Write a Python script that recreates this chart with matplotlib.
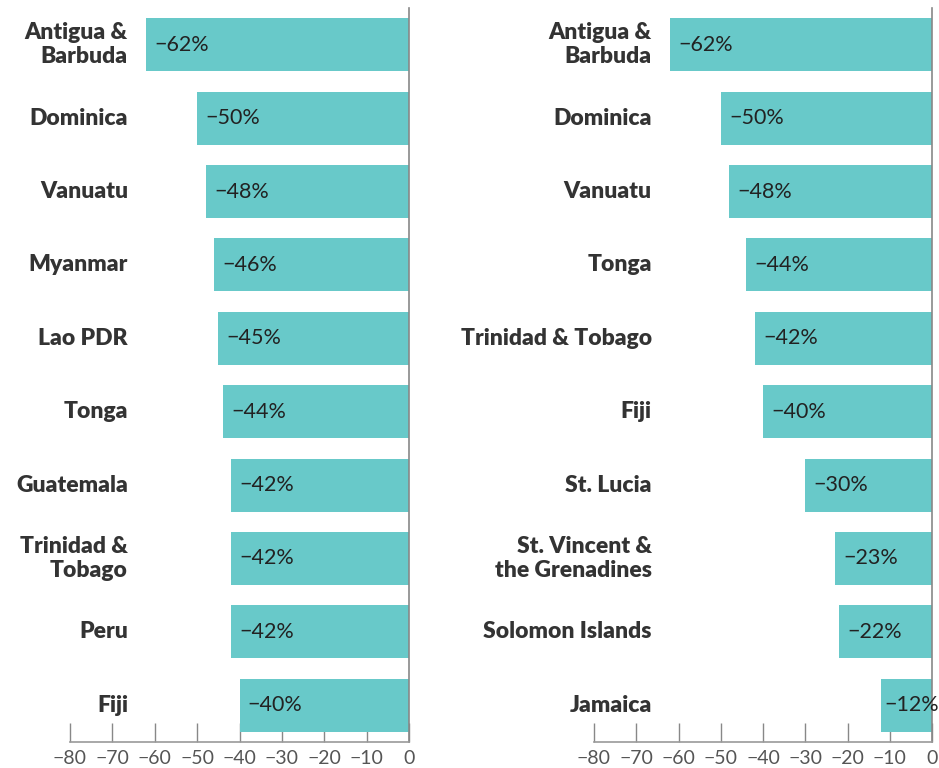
import matplotlib
matplotlib.use("Agg")
import matplotlib.pyplot as plt
import matplotlib.transforms as mtransforms

# Данные: левая и правая панели
left_countries = ["Antigua &\nBarbuda", "Dominica", "Vanuatu", "Myanmar", "Lao PDR",
                  "Tonga", "Guatemala", "Trinidad &\nTobago", "Peru", "Fiji"]
left_values = [-62, -50, -48, -46, -45, -44, -42, -42, -42, -40]

right_countries = ["Antigua &\nBarbuda", "Dominica", "Vanuatu", "Tonga", "Trinidad & Tobago",
                   "Fiji", "St. Lucia", "St. Vincent &\nthe Grenadines", "Solomon Islands", "Jamaica"]
right_values = [-62, -50, -48, -44, -42, -40, -30, -23, -22, -12]

x_ticks = [-80, -70, -60, -50, -40, -30, -20, -10, 0]

BAR = "#68C9C9"
FONT = ["Lato", "DejaVu Sans"]
plt.rcParams["font.family"] = FONT


def panel(fig, rect, countries, values):
    ax = fig.add_axes(rect)
    y = list(range(len(values)))
    ax.barh(y, values, height=0.72, color=BAR, zorder=2)
    ax.set_xlim(-80, 0)
    ax.set_ylim(len(values) - 0.5, -0.5)
    ax.set_yticks([])
    ax.set_xticks(x_ticks)
    ax.set_xticklabels([f"\u2212{abs(t)}" if t < 0 else str(t) for t in x_ticks])
    for s in ("top", "left"):
        ax.spines[s].set_visible(False)
    ax.spines["right"].set_color("#888888")
    ax.spines["bottom"].set_color("#999999")
    ax.spines["right"].set_linewidth(1.2)
    ax.spines["bottom"].set_linewidth(1.2)
    ax.tick_params(axis="x", direction="in", length=14, width=1.0, color="#888888",
                   labelsize=14, labelcolor="#555555", pad=6)

    # Подписи стран — внутри области осей, выровнены вправо
    trans = mtransforms.blended_transform_factory(ax.transAxes, ax.transData)
    for yi, name in zip(y, countries):
        ax.text(0.171, yi, name, transform=trans, ha="right", va="center",
                fontsize=16.5, fontweight="heavy", color="#333333", linespacing=1.15)

    # Значения внутри столбиков
    fig.canvas.draw()
    r = fig.canvas.get_renderer()
    x0_px = ax.transData.transform((0, 0))[0]
    px2pt = 72 / fig.dpi
    for yi, v in zip(y, values):
        t = ax.annotate(f"\u2212{abs(v)}%", xy=(v, yi), xytext=(6, 0),
                        textcoords="offset points", ha="left", va="center",
                        fontsize=15.5, color="#222222", zorder=3)
        bb = t.get_window_extent(renderer=r)
        over = bb.x1 - (x0_px - 1)
        if over > 0:
            t.set_position((max(6 - over * px2pt, 2), 0))
    return ax


fig = plt.figure(figsize=(9.39, 7.68), dpi=100)
panel(fig, [70 / 939, 26 / 768, 339 / 939, 734 / 768], left_countries, left_values)
panel(fig, [594 / 939, 26 / 768, 338 / 939, 734 / 768], right_countries, right_values)
fig.savefig("out.png", dpi=100, facecolor="white")
